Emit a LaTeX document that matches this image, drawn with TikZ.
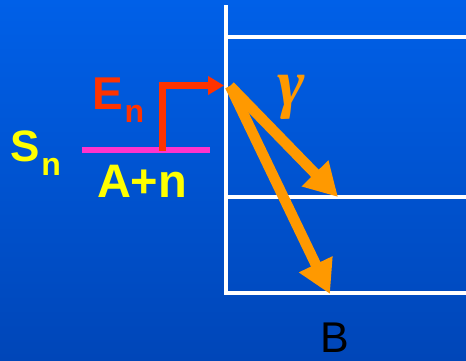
\documentclass[tikz,border=0pt]{standalone}
\usepackage{fontspec}
\setmainfont{Liberation Sans}
\newfontfamily\gammafont{Liberation Serif}
\usetikzlibrary{arrows.meta}
\definecolor{bgtop}{RGB}{0,96,232}
\definecolor{bgbot}{RGB}{0,70,184}
\definecolor{lvlred}{RGB}{255,51,0}
\definecolor{gamorange}{RGB}{255,153,0}
\definecolor{sepmag}{RGB}{255,51,204}
\definecolor{labyellow}{RGB}{255,255,0}
\tikzset{
  level/.style={draw=white, line width=3.5pt, line join=miter},
  label/.style={anchor=base west, inner sep=0pt, outer sep=0pt},
  gammaarrow/.style={draw=gamorange, line width=10.5pt, -{Triangle[length=33pt,width=35pt]}},
  feedarrow/.style={draw=lvlred, line width=6.5pt, line join=miter, -{Triangle[length=16pt,width=18pt]}},
}
\begin{document}
\begin{tikzpicture}[x=1pt,y=-1pt]
\useasboundingbox (0,0) rectangle (466,360);
\fill[top color=bgtop, bottom color=bgbot] (0,0) rectangle (466,360);

% levels of nucleus B
\coordinate (vtop) at (226,5);
\coordinate (vbot) at (226,293);
\coordinate (rbot) at (466,293);
\coordinate (l1a) at (226,37);
\coordinate (l1b) at (466,37);
\coordinate (l2a) at (226,197);
\coordinate (l2b) at (466,197);
\draw[level] (vtop) -- (vbot) -- (rbot);
\draw[level] (l1a) -- (l1b);
\draw[level] (l2a) -- (l2b);

% separation level A+n
\coordinate (sepL) at (82,150);
\coordinate (sepR) at (210,150);
\draw[draw=sepmag, line width=5.5pt] (sepL) -- (sepR);

% red arrow
\coordinate (feedstart) at (162.3,150.5);
\coordinate (feedcorner) at (162.3,85.5);
\coordinate (feedtip) at (224,85.5);
\draw[feedarrow] (feedstart) -- (feedcorner) -- (feedtip);

% gamma arrows
\coordinate (gsrc) at (230,86);
\coordinate (gtip1) at (338,197);
\coordinate (gtip2) at (330,294);
\draw[gammaarrow] (gsrc) -- (gtip1);
\draw[gammaarrow] (gsrc) -- (gtip2);

% labels
\node[label, text=lvlred, font=\fontsize{46}{46}\selectfont\bfseries] (En) at (92,109)
  {E\hspace{2pt}\raisebox{-13pt}{\fontsize{32}{32}\selectfont n}};
\node[label, text=labyellow, font=\fontsize{44}{44}\selectfont\bfseries] (Sn) at (10,161)
  {S\hspace{2pt}\raisebox{-14pt}{\fontsize{32}{32}\selectfont n}};
\node[label, text=labyellow, font=\fontsize{47}{47}\selectfont\bfseries] (An) at (97,197) {A+n};
\node[label, text=gamorange, font=\fontsize{66}{66}\selectfont\gammafont\bfseries\itshape] (gam) at (277,105) {γ};
\node[label, text=black, font=\fontsize{43}{43}\selectfont] (B) at (320,352) {B};
\end{tikzpicture}
\end{document}
